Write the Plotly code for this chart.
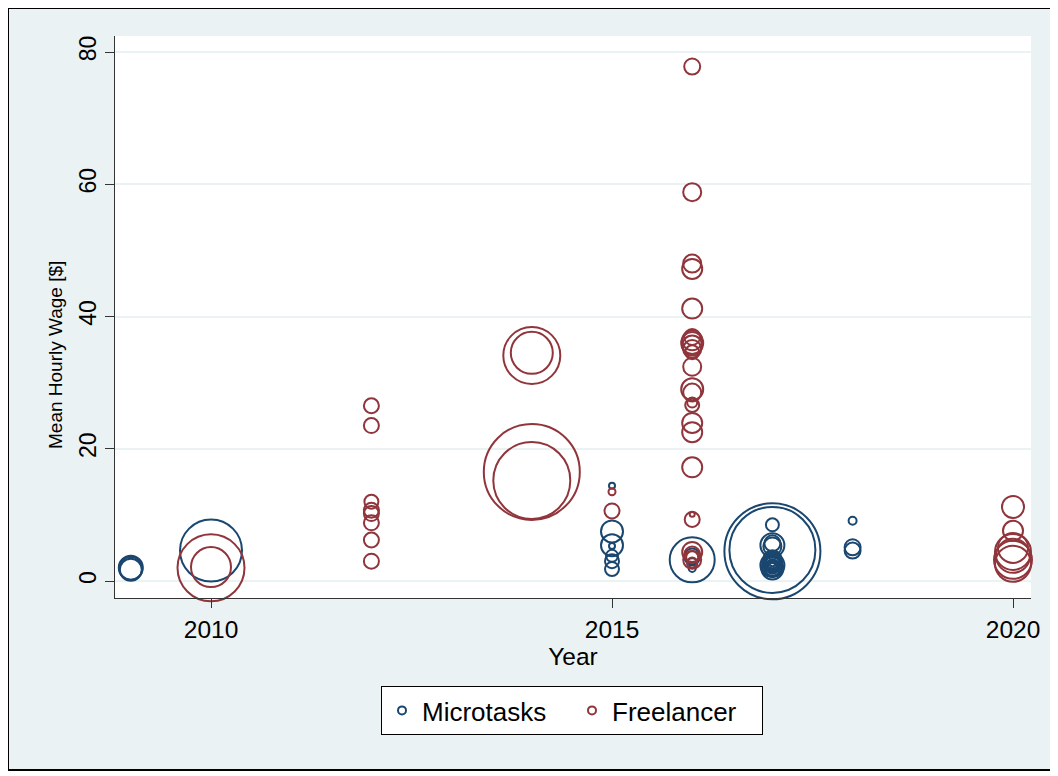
import plotly.graph_objects as go

# ---------------- data ----------------
micro_year = [2009, 2009, 2009, 2010,
              2015, 2015, 2015, 2015, 2015, 2015, 2015,
              2016, 2016, 2016, 2016,
              2017, 2017, 2017, 2017, 2017, 2017,
              2017, 2017, 2017, 2017, 2017, 2017, 2017, 2017, 2017, 2017,
              2017, 2017, 2017, 2017, 2017,
              2018, 2018, 2018]
micro_wage = [1.7, 2.0, 1.9, 4.6,
              14.4, 7.5, 5.4, 5.3, 3.8, 3.0, 1.8,
              3.2, 3.7, 2.7, 1.9,
              4.5, 4.7, 8.5, 5.4, 5.7, 5.2,
              2.4, 2.2, 2.6, 2.0, 2.8, 2.3, 2.5, 2.1, 2.7, 3.3,
              1.9, 2.9, 3.0, 2.0, 2.6,
              9.1, 5.1, 4.6]
micro_size = [22, 24, 23, 62,
              6, 22, 22, 6, 12, 14, 14,
              45, 16, 10, 7,
              96, 86, 13, 24, 16, 18,
              24, 20, 18, 16, 14, 12, 10, 8, 6, 18,
              22, 20, 16, 12, 14,
              8, 16, 16]

free_year = [2010, 2010,
             2012, 2012, 2012, 2012, 2012, 2012, 2012, 2012,
             2014, 2014, 2014, 2014,
             2015, 2015,
             2016, 2016, 2016, 2016, 2016, 2016, 2016, 2016, 2016, 2016,
             2016, 2016, 2016, 2016, 2016, 2016, 2016, 2016, 2016, 2016,
             2016, 2016, 2016, 2016, 2016, 2016,
             2020, 2020, 2020, 2020, 2020, 2020, 2020]
free_wage = [2.0, 2.1,
             26.5, 23.5, 12.0, 10.7, 10.2, 8.8, 6.2, 3.0,
             34.1, 34.5, 16.5, 15.2,
             13.5, 10.6,
             77.8, 58.8, 48.0, 47.2, 41.2, 36.9, 36.4, 36.0, 35.6, 35.1,
             34.6, 32.4, 29.0, 28.5, 27.0, 26.6, 23.9, 22.5, 17.2, 10.1,
             9.3, 4.4, 4.0, 3.6, 3.2, 2.8,
             11.2, 7.6, 5.0, 4.4, 3.8, 3.2, 2.6]
free_size = [67, 40,
             15, 15, 14, 15, 15, 15, 15, 15,
             57, 42, 96, 77,
             7, 15,
             16, 18, 18, 20, 20, 16, 20, 22, 20, 18,
             14, 18, 22, 18, 10, 14, 20, 20, 20, 5,
             15, 20, 16, 12, 18, 10,
             22, 20, 30, 36, 34, 38, 36]

series_names = ["Microtasks", "Freelancer"]
x_ticks = [2010, 2015, 2020]
y_ticks = [0, 20, 40, 60, 80]
y_title = "Mean Hourly Wage [$]"
x_title = "Year"

# ---------------- style ----------------
BLUE = "#1a476f"
RED = "#90353b"
BG = "#eaf2f3"
OFF = 8                      # page body margin
W, H = 1050, 763             # figure size (page 8..1058, 8..771)
L, R, T, B = 115 - OFF, 1031 - OFF, 36 - OFF, 598 - OFF   # plot area (figure px)
FONT = "Liberation Sans, Arial, sans-serif"

# axis calibration (figure px)
X2010, PX_PER_YEAR = 211 - OFF, 80.2
Y0, PX_PER_UNIT = 581 - OFF, 6.6125

fig = go.Figure()

for name, xs, ys, ss, col in [
    (series_names[0], micro_year, micro_wage, micro_size, BLUE),
    (series_names[1], free_year, free_wage, free_size, RED),
]:
    fig.add_trace(go.Scatter(
        x=xs, y=ys, mode="markers", name=name, showlegend=False,
        marker=dict(symbol="circle-open", size=ss, color=col, opacity=1,
                    line=dict(width=2, color=col)),
        cliponaxis=False,
    ))

# legend-only traces (small uniform markers)
for name, col in [(series_names[0], BLUE), (series_names[1], RED)]:
    fig.add_trace(go.Scatter(
        x=[None], y=[None], mode="markers", name=name, showlegend=True,
        marker=dict(symbol="circle-open", size=8, color=col, opacity=1,
                    line=dict(width=2, color=col)),
    ))

pw, ph = R - L, B - T


def px_x(p):
    return (p - L) / pw


def px_y(p):
    return (B - p) / ph


# outer black frame: left, top, bottom edges
frame = dict(color="black", width=2)
fig.add_shape(type="line", xref="paper", yref="paper",
              x0=px_x(0), x1=px_x(0), y0=px_y(H), y1=px_y(0), line=frame, layer="above")
fig.add_shape(type="line", xref="paper", yref="paper",
              x0=px_x(0), x1=px_x(W), y0=px_y(0), y1=px_y(0), line=frame, layer="above")
fig.add_shape(type="line", xref="paper", yref="paper",
              x0=px_x(0), x1=px_x(W), y0=px_y(H - 1), y1=px_y(H - 1), line=frame, layer="above")

# y-axis title (as placed in the reference)
fig.add_annotation(text=y_title, xref="paper", yref="paper",
                   x=px_x(55 - OFF), y=px_y(355 - OFF), xanchor="center", yanchor="middle",
                   textangle=-90, showarrow=False, font=dict(size=19))

fig.update_layout(
    width=W, height=H,
    margin=dict(l=L, r=W - R, t=T, b=H - B, pad=0),
    paper_bgcolor=BG, plot_bgcolor="white",
    font=dict(family=FONT, size=24, color="black"),
    xaxis=dict(
        range=[2010 - (X2010 - L) / PX_PER_YEAR, 2010 + (R - X2010) / PX_PER_YEAR],
        tickvals=x_ticks, ticks="outside", ticklen=9, tickwidth=1.3,
        tickcolor="#333", showline=True, linecolor="#333", linewidth=1.3,
        showgrid=False, zeroline=False,
        title=dict(text=x_title, standoff=2, font=dict(size=24.5)),
        tickfont=dict(size=24.5),
    ),
    yaxis=dict(
        range=[-(B - Y0) / PX_PER_UNIT, (Y0 - T) / PX_PER_UNIT],
        tickvals=y_ticks, ticks="outside", ticklen=9, tickwidth=1.3,
        tickcolor="#333", showline=True, linecolor="#333", linewidth=1.3,
        showgrid=True, gridcolor=BG, gridwidth=1.5, zeroline=False,
        tickangle=-90,
        tickfont=dict(size=23),
    ),
    legend=dict(
        orientation="h", x=px_x(572 - OFF), xanchor="center",
        y=px_y(686 - OFF), yanchor="top",
        bgcolor="white", bordercolor="black", borderwidth=1,
        font=dict(size=26), entrywidth=145, entrywidthmode="pixels",
    ),
)

fig.write_html("out.html")
